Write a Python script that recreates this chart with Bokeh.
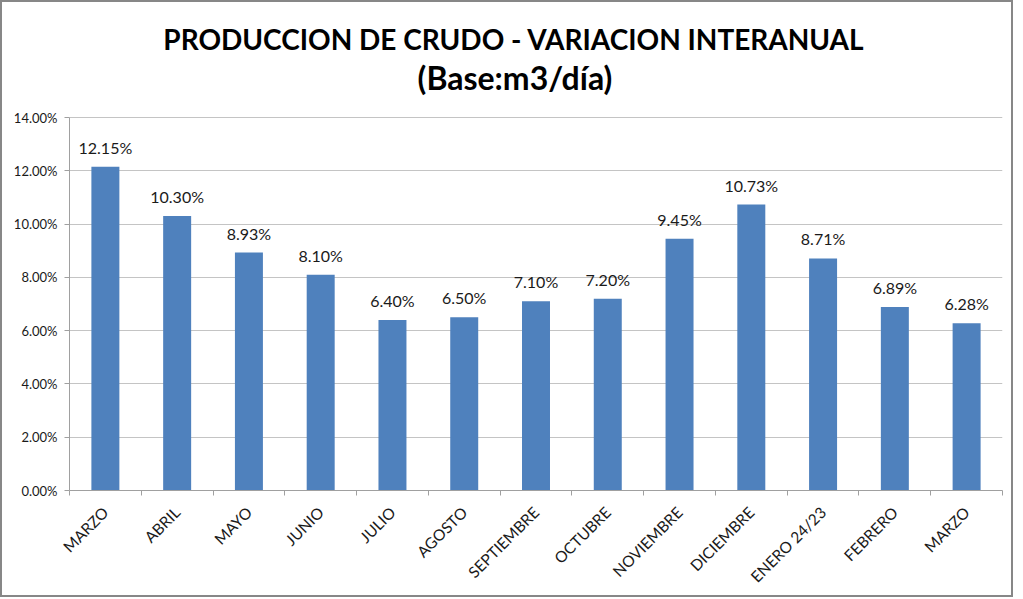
import math
from bokeh.plotting import figure
from bokeh.models import (ColumnDataSource, FixedTicker, NumeralTickFormatter,
                          Range1d, Label, LabelSet)
from bokeh.core.properties import value
from bokeh.embed import file_html
from bokeh.resources import INLINE

months = ["MARZO", "ABRIL", "MAYO", "JUNIO", "JULIO", "AGOSTO", "SEPTIEMBRE",
          "OCTUBRE", "NOVIEMBRE", "DICIEMBRE", "ENERO 24/23", "FEBRERO", "MARZO"]
values = [12.15, 10.30, 8.93, 8.10, 6.40, 6.50, 7.10, 7.20, 9.45, 10.73, 8.71, 6.89, 6.28]
y_ticks = [0.00, 0.02, 0.04, 0.06, 0.08, 0.10, 0.12, 0.14]
title_line1 = "PRODUCCION DE CRUDO - VARIACION INTERANUAL"
title_line2 = "(Base:m3/día)"

FONT = "Lato"
TXT = "#1a1a1a"

# layout in pixels: the plotting frame runs from the top of the canvas down to the
# x axis; the value axis (0 .. 14 %) only uses the lower AXIS_PX pixels of it, the
# space above holds the two title lines.
FRAME_W, FRAME_H, AXIS_PX = 933, 488, 373
y_top = y_ticks[-1] * FRAME_H / AXIS_PX

xs = [i + 0.5 for i in range(len(months))]
source = ColumnDataSource(dict(
    x=xs,
    top=[v / 100 for v in values],
    label=[f"{v:.2f}%" for v in values],
))

p = figure(frame_width=FRAME_W, frame_height=FRAME_H, output_backend="svg",
           toolbar_location=None,
           x_range=Range1d(0, len(months)), y_range=Range1d(y_ticks[0], y_top),
           min_border_left=67, min_border_right=9, min_border_top=0,
           min_border_bottom=0)
p.title = None
p.styles = {"border": "2px solid #878787"}
p.outline_line_color = None
p.background_fill_color = "white"
p.border_fill_color = "white"

p.vbar(x="x", top="top", width=0.39, source=source, fill_color="#4F81BD",
       line_color=None)

labels = LabelSet(x="x", y="top", text="label", source=source, text_align="center",
                  text_baseline="alphabetic", y_offset=13, text_font=value(FONT),
                  text_font_size="16px", text_color=TXT)
p.add_layout(labels)

# x axis
p.xaxis.ticker = FixedTicker(ticks=xs, minor_ticks=list(range(len(months) + 1)))
p.xaxis.major_label_overrides = {x: m for x, m in zip(xs, months)}
p.xaxis.major_label_orientation = math.pi / 4
p.xaxis.major_tick_line_color = None
p.xaxis.major_tick_in = 0
p.xaxis.major_tick_out = 0
p.xaxis.minor_tick_line_color = "#a0a0a0"
p.xaxis.minor_tick_in = 0
p.xaxis.minor_tick_out = 5
p.xaxis.major_label_standoff = 14
p.xaxis.major_label_text_font = FONT
p.xaxis.major_label_text_font_size = "15.5px"
p.xaxis.major_label_text_color = TXT
p.xaxis.axis_line_color = "#a0a0a0"

# y axis (drawn only over 0 .. 14 %)
p.yaxis.ticker = FixedTicker(ticks=y_ticks)
p.yaxis.bounds = (y_ticks[0], y_ticks[-1])
p.yaxis.formatter = NumeralTickFormatter(format="0.00%")
p.yaxis.major_tick_in = 0
p.yaxis.major_tick_out = 5
p.yaxis.major_tick_line_color = "#a0a0a0"
p.yaxis.minor_tick_line_color = None
p.yaxis.axis_line_color = "#a0a0a0"
p.yaxis.major_label_standoff = 7
p.yaxis.major_label_text_font = FONT
p.yaxis.major_label_text_font_size = "13px"
p.yaxis.major_label_text_color = TXT

p.xgrid.visible = False
p.ygrid.ticker = FixedTicker(ticks=y_ticks)
p.ygrid.grid_line_color = "#c4c4c4"

# titles (screen pixels measured from the frame's lower-left corner)
p.add_layout(Label(x=444.5, y=FRAME_H - 36, x_units="screen", y_units="screen",
                   text=title_line1, text_align="center", text_baseline="middle",
                   text_font=FONT, text_font_size="28px", text_font_style="bold",
                   text_color="black"))
p.add_layout(Label(x=445.5, y=FRAME_H - 75, x_units="screen", y_units="screen",
                   text=title_line2, text_align="center", text_baseline="middle",
                   text_font=FONT, text_font_size="32px", text_font_style="bold",
                   text_color="black"))

open("out.html", "w").write(file_html(p, INLINE))
